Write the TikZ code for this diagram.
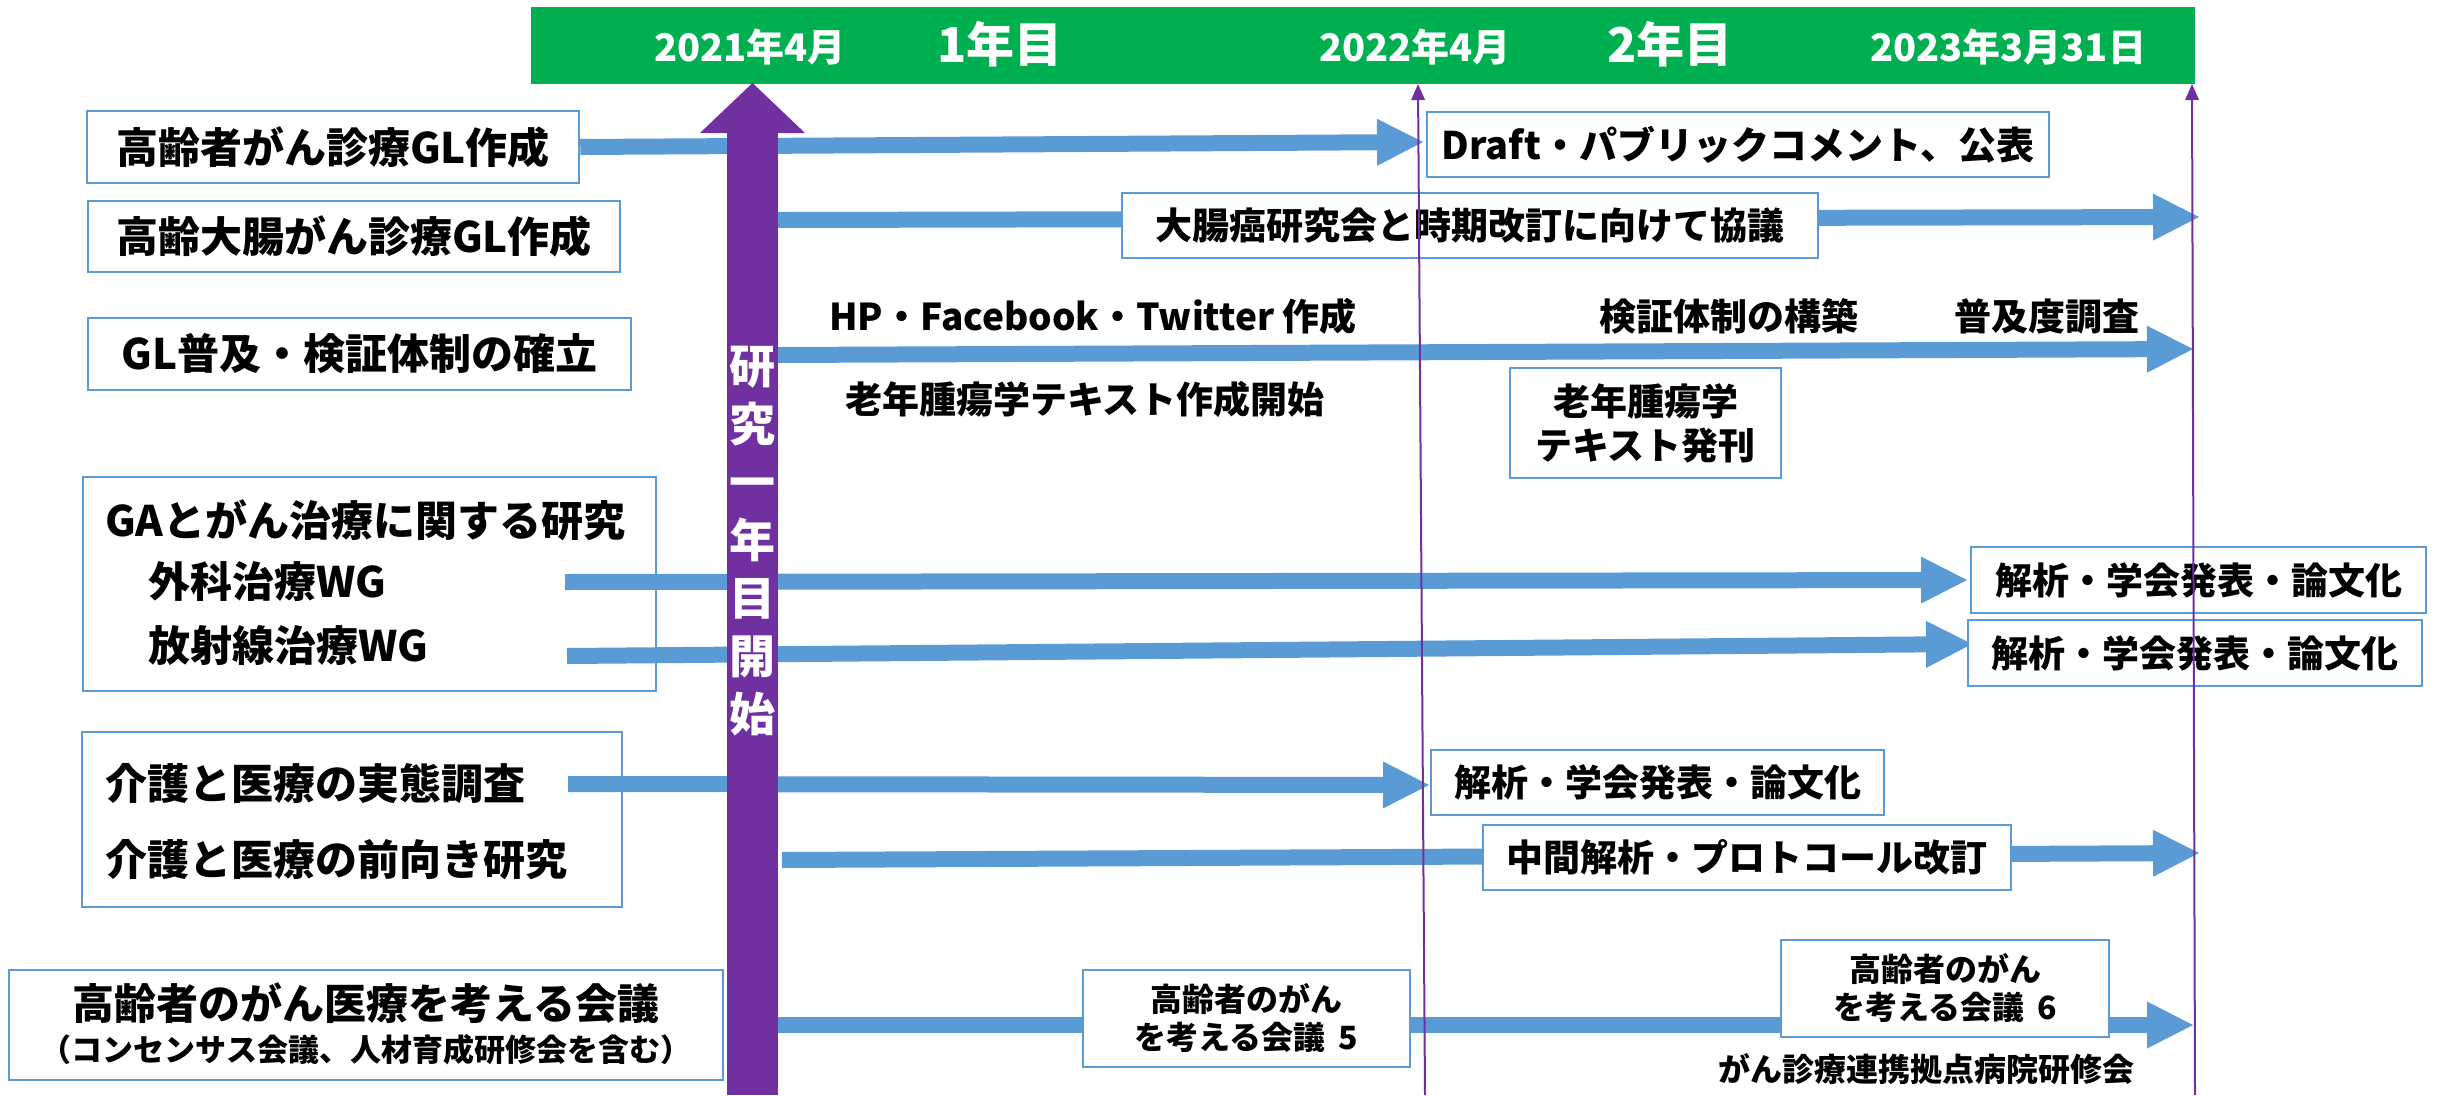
\documentclass[tikz,border=0pt]{standalone}
\usepackage{fontspec}
\setmainfont{Noto Sans CJK JP}
\usetikzlibrary{arrows.meta}
\definecolor{tgreen}{HTML}{00B050}
\definecolor{tpurple}{HTML}{7030A0}
\definecolor{tblue}{HTML}{5B9BD5}
\newcommand\fs[1]{\fontsize{#1}{#1}\selectfont\bfseries}
\newcommand\fsl[2]{\fontsize{#1}{#2}\selectfont\bfseries}
\begin{document}
\begin{tikzpicture}[x=1pt,y=-1pt,
  lbox/.style={draw=tblue, line width=2.5pt, fill=white, inner sep=0pt, align=center},
  hdr/.style={text=white, inner sep=0pt},
  barrow/.style={draw=tblue, line width=16pt, -{Triangle[width=47pt,length=46pt,line width=0pt]}},
  vline/.style={draw=tpurple, line width=2pt, -{Triangle[width=14pt,length=16pt,line width=0pt]}},
  ftxt/.style={inner sep=0pt, font=\fs{37}}]
\useasboundingbox (0,0) rectangle (2441,1095);
% header bar
\node[fill=tgreen, minimum width=1664pt, minimum height=77pt, inner sep=0pt] (bar) at (1363,45.5) {};
\node[hdr, font=\fs{38}] (h1) at (750,47) {2021年4月};
\node[hdr, font=\fs{48}] (y1) at (1000,44) {1年目};
\node[hdr, font=\fs{38}] (h2) at (1415,47) {2022年4月};
\node[hdr, font=\fs{48}] (y2) at (1670,44) {2年目};
\node[hdr, font=\fs{38}] (h3) at (2008,47) {2023年3月31日};
% left boxes
\node[lbox, minimum width=492pt, minimum height=72pt, font=\fs{42}] (b1) at (333,147) {高齢者がん診療GL作成};
\node[lbox, minimum width=532pt, minimum height=71pt, font=\fs{42}] (b2) at (354,236.5) {高齢大腸がん診療GL作成};
\node[lbox, minimum width=543pt, minimum height=72pt, font=\fs{42}] (b3) at (359.5,354) {GL普及・検証体制の確立};
\node[lbox, minimum width=573pt, minimum height=214pt] (b4) at (369.5,584) {};
\node[ftxt, font=\fs{42}, anchor=west] (b4a) at (105,520) {GAとがん治療に関する研究};
\node[ftxt, font=\fs{42}, anchor=west] (b4b) at (148,582) {外科治療WG};
\node[ftxt, font=\fs{42}, anchor=west] (b4c) at (148,646) {放射線治療WG};
\node[lbox, minimum width=540pt, minimum height=175pt] (b5) at (352,819.5) {};
\node[ftxt, font=\fs{42}, anchor=west] (b5a) at (105,783) {介護と医療の実態調査};
\node[ftxt, font=\fs{42}, anchor=west] (b5b) at (105,860) {介護と医療の前向き研究};
\node[lbox, minimum width=714pt, minimum height=110pt] (b6) at (366,1025) {};
\node[ftxt, font=\fs{42}] (b6a) at (366,1003) {高齢者のがん医療を考える会議};
\node[ftxt, font=\fs{31}] (b6b) at (366,1050) {（コンセンサス会議、人材育成研修会を含む）};
% arrow end points
\coordinate (a1e) at (1423,142);
\coordinate (a2s) at (778,220); \coordinate (a2e) at (2199,217);
\coordinate (a3s) at (778,355); \coordinate (a3e) at (2193,349);
\coordinate (a4s) at (565,582); \coordinate (a4e) at (1967,580);
\coordinate (a5s) at (567,656); \coordinate (a5e) at (1972,644);
\coordinate (a6s) at (568,784); \coordinate (a6e) at (1429,785);
\coordinate (a7s) at (782,860); \coordinate (a7e) at (2199,853);
\coordinate (a8s) at (778,1025); \coordinate (a8e) at (2193,1025);
\draw[barrow] (b1.east) -- (a1e);
\draw[barrow] (a2s) -- (a2e);
\draw[barrow] (a3s) -- (a3e);
\draw[barrow] (a4s) -- (a4e);
\draw[barrow] (a5s) -- (a5e);
\draw[barrow] (a6s) -- (a6e);
\draw[barrow] (a7s) -- (a7e);
\draw[barrow] (a8s) -- (a8e);
% right boxes
\node[lbox, minimum width=622pt, minimum height=65pt, font=\fs{38}] (draft) at (1738,144.5) {Draft・パブリックコメント、公表};
\node[lbox, minimum width=696pt, minimum height=65pt, font=\fs{37}] (r2) at (1470,225.5) {大腸癌研究会と時期改訂に向けて協議};
\node[ftxt] (hp) at (1093,316) {HP・Facebook・Twitter 作成};
\node[ftxt] (kensho) at (1729,316) {検証体制の構築};
\node[ftxt] (fukyu) at (2047,316) {普及度調査};
\node[ftxt] (rtext) at (1085,399) {老年腫瘍学テキスト作成開始};
\node[lbox, minimum width=271pt, minimum height=110pt, font=\fsl{37}{44}] (tex) at (1645.5,423) {老年腫瘍学\\テキスト発刊};
\node[lbox, minimum width=455pt, minimum height=66pt, font=\fs{37}] (r4) at (2198.5,580) {解析・学会発表・論文化};
\node[lbox, minimum width=454pt, minimum height=66pt, font=\fs{37}] (r5) at (2195,653) {解析・学会発表・論文化};
\node[lbox, minimum width=453pt, minimum height=65pt, font=\fs{37}] (r6) at (1657.5,782.5) {解析・学会発表・論文化};
\node[lbox, minimum width=528pt, minimum height=65pt, font=\fs{37}] (r7) at (1747,857.5) {中間解析・プロトコール改訂};
\node[lbox, minimum width=327pt, minimum height=97pt, font=\fsl{32}{38}] (m5) at (1246.5,1018.5) {高齢者のがん\\を考える会議\hspace{0.4em}5};
\node[lbox, minimum width=328pt, minimum height=97pt, font=\fsl{32}{38}] (m6) at (1945,988.5) {高齢者のがん\\を考える会議\hspace{0.4em}6};
\node[ftxt, font=\fs{32}] (kensyu) at (1926,1069) {がん診療連携拠点病院研修会};
% big purple arrow
\coordinate (pbot) at (752.5,1095); \coordinate (ptop) at (752.5,83);
\draw[tpurple, line width=51pt, -{Triangle[width=105pt,length=50pt,line width=0pt]}] (pbot) -- (ptop);
\node[text=white, inner sep=0pt, align=center, font=\fsl{46}{58}] (ptxt) at (752.5,541) {研\\究\\一\\年\\目\\開\\始};
% thin purple lines
\coordinate (l1b) at (1425,1095); \coordinate (l1t) at (1418,84);
\coordinate (l2b) at (2195,1095); \coordinate (l2t) at (2192,84);
\draw[vline] (l1b) -- (l1t);
\draw[vline] (l2b) -- (l2t);
\end{tikzpicture}
\end{document}
